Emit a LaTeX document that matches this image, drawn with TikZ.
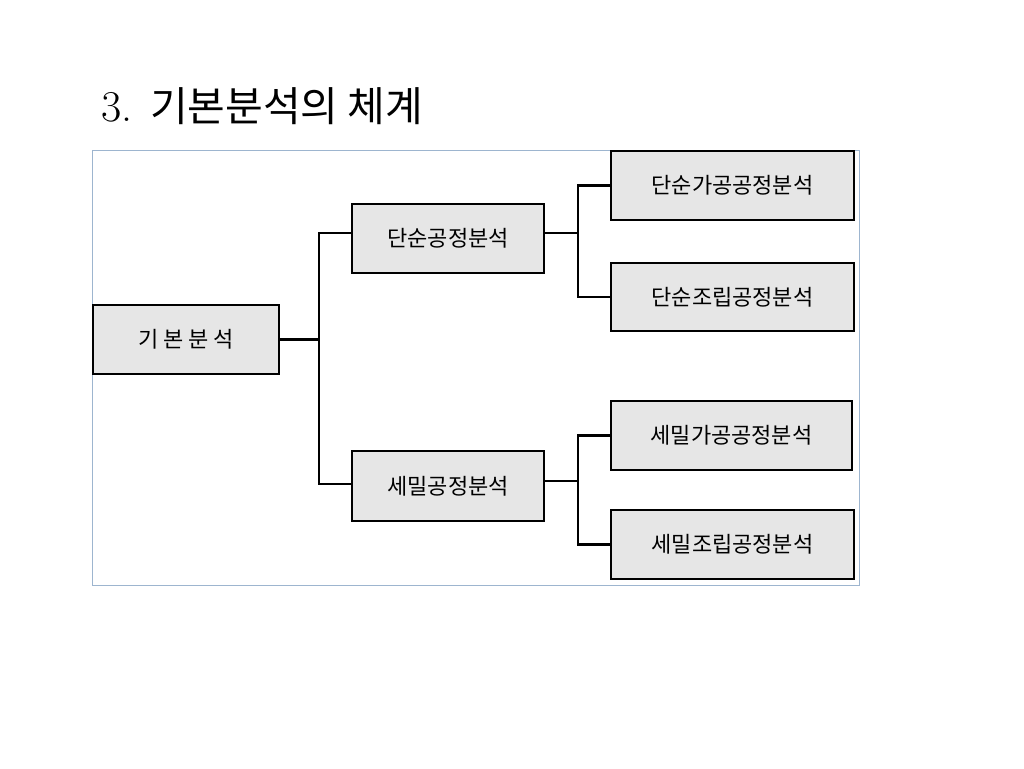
\documentclass[tikz,border=0pt]{standalone}
\usepackage{fontspec}
\newfontfamily\kr{Noto Sans CJK KR}
\definecolor{boxfill}{HTML}{E6E6E6}
\definecolor{framecol}{HTML}{9DB5CF}
\begin{document}
\begin{tikzpicture}[x=1pt,y=-1pt,
  box/.style={draw=black,line width=2.4pt,fill=boxfill,inner sep=0pt,
    font=\kr\fontsize{22}{26}\selectfont},
  conn/.style={draw=black,line width=2.2pt}]
\useasboundingbox (0,0) rectangle (1024,768);
\node[anchor=west,inner sep=0pt,font=\fontsize{44}{50}\selectfont] (title) at (101,106) {3. {\kr\fontsize{41}{48}\selectfont 기본분석의\ 체계}};
\draw[framecol,line width=1pt] (92,150) rectangle (859,585);
\node[box,minimum width=186pt,minimum height=69pt] (base) at (186,339.5) {기 본 분 석};
\node[box,minimum width=192pt,minimum height=69pt] (simple) at (448,238.5) {단순공정분석};
\node[box,minimum width=192pt,minimum height=70pt] (detail) at (448,486) {세밀공정분석};
\node[box,minimum width=243pt,minimum height=69pt] (sa) at (732.5,185.5) {단순가공공정분석};
\node[box,minimum width=243pt,minimum height=68pt] (sb) at (732.5,297) {단순조립공정분석};
\node[box,minimum width=241pt,minimum height=69pt] (da) at (731.5,435.5) {세밀가공공정분석};
\node[box,minimum width=243pt,minimum height=69pt] (db) at (732.5,544.5) {세밀조립공정분석};
\draw[conn] (base.east) -- ++(39,0) coordinate (j1);
\draw[conn] ([yshift=5.5pt]simple.west) -| (j1) |- ([yshift=2pt]detail.west);
\draw[conn] ([yshift=5.5pt]simple.east) -- ++(33,0) coordinate (j2);
\draw[conn] (sa.west) -| (j2) |- (sb.west);
\draw[conn] ([yshift=5pt]detail.east) -- ++(33,0) coordinate (j3);
\draw[conn] (da.west) -| (j3) |- (db.west);
\end{tikzpicture}
\end{document}
